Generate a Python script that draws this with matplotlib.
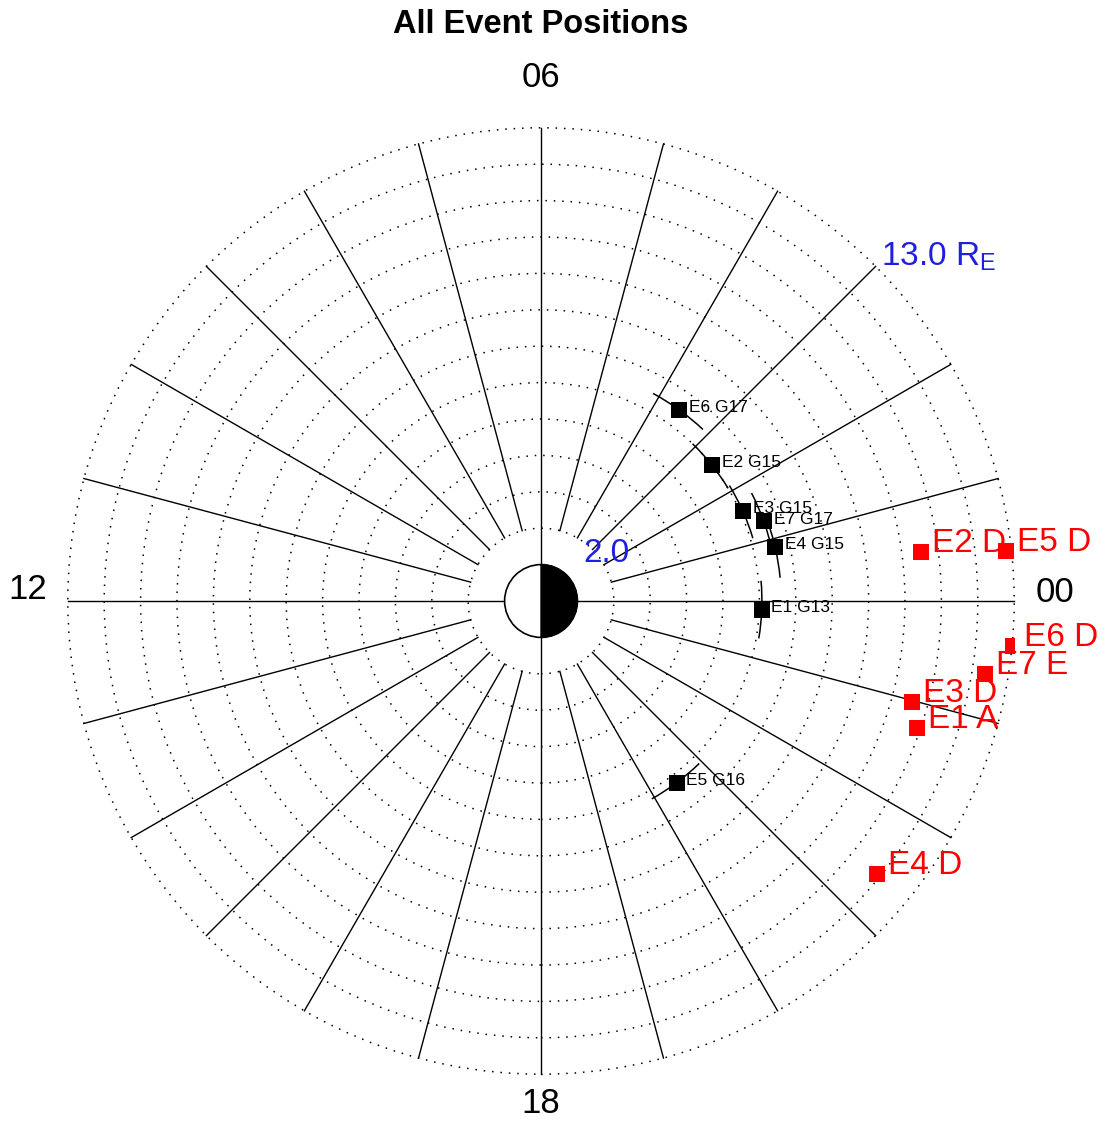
import numpy as np
import matplotlib
matplotlib.use('Agg')
import matplotlib.pyplot as plt
from matplotlib.patches import Circle, Wedge, Arc, Rectangle

plt.rcParams['font.family'] = ['Liberation Sans', 'DejaVu Sans']
plt.rcParams['mathtext.fontset'] = 'custom'
plt.rcParams['mathtext.rm'] = 'Liberation Sans'

# GOES positions for each event (radial distance in RE, magnetic local time in h)
goes_labels = ['E1 G13', 'E2 G15', 'E3 G15', 'E4 G15', 'E5 G16', 'E6 G17', 'E7 G17']
goes_r = [6.07, 6.00, 6.07, 6.60, 6.23, 6.48, 6.50]
goes_mlt = [23.85, 2.57, 1.60, 0.87, 20.45, 3.61, 1.31]

# THEMIS probe positions for each event
probe_labels = ['E1 A', 'E2 D', 'E3 D', 'E4 D', 'E5 D', 'E6 D', 'E7 E']
probe_r = [10.91, 10.53, 10.56, 11.90, 12.84, 13.03, 12.36]
probe_mlt = [22.76, 0.49, 22.98, 21.39, 0.41, 23.64, 23.38]

track_half = 0.5      # half width of the orbit track drawn around GOES, hours
r_inner, r_outer = 2, 13

def to_xy(r, mlt):
    ang = np.radians(np.asarray(mlt) * 15.0)
    return np.asarray(r) * np.cos(ang), np.asarray(r) * np.sin(ang)

scale = 36.4  # pixels per RE
fig = plt.figure(figsize=(11.07, 11.22), dpi=100)
ax = fig.add_axes([0, 0, 1, 1])
ax.set_xlim(-541 / scale, (1107 - 541) / scale)
ax.set_ylim(-(1122 - 601) / scale, 601 / scale)
ax.axis('off')

# dotted range rings every 1 RE
for r in range(r_inner, r_outer + 1):
    ax.add_patch(Circle((0, 0), r, fill=False, ec='k', lw=1.1,
                        ls=(0, (1, 4.5))))

# hour spokes
for h in range(24):
    if h % 6 == 0:
        continue
    x, y = to_xy([r_inner, r_outer], [h, h])
    ax.plot(x, y, color='k', lw=1.0)
ax.plot([-r_outer, r_outer], [0, 0], color='k', lw=1.0)
ax.plot([0, 0], [-r_outer, r_outer], color='k', lw=1.0)

# Earth, night side dark
ax.add_patch(Circle((0, 0), 1, fc='white', ec='k', lw=1.2, zorder=3))
ax.add_patch(Wedge((0, 0), 1, -90, 90, fc='k', ec='k', lw=1.0, zorder=4))

# GOES orbit tracks and positions
for r, m in zip(goes_r, goes_mlt):
    ax.add_patch(Arc((0, 0), 2 * r, 2 * r, theta1=(m - track_half) * 15,
                     theta2=(m + track_half) * 15, color='k', lw=1.1, zorder=4))
gx, gy = to_xy(goes_r, goes_mlt)
ax.plot(gx, gy, 's', color='k', ms=11.5, mew=0, zorder=5)
for x, y, lab in zip(gx, gy, goes_labels):
    ax.annotate(lab, (x, y), xytext=(7, -1.5), textcoords='offset points',
                ha='left', va='baseline', fontsize=12.5, color='k', zorder=6)

# probe positions, clipped to the plot window
px, py = to_xy(probe_r, probe_mlt)
clip = Rectangle((-r_outer, -r_outer), 2 * r_outer, 2 * r_outer,
                 transform=ax.transData)
pts, = ax.plot(px, py, 's', color='red', ms=11.5, mew=0, zorder=5)
pts.set_clip_path(clip)
for x, y, lab in zip(px, py, probe_labels):
    ax.annotate(lab, (x, y), xytext=(8, 0), textcoords='offset points',
                ha='left', va='baseline', fontsize=24, color='red', zorder=6)

# ring labels
blue = '#1f1fe0'
ax.text(1.16, 1.08, '2.0', color=blue, fontsize=24, ha='left', va='baseline')
ax.text(9.35, 9.23, r'13.0 R$_{\rm E}$', color=blue, fontsize=24,
        ha='left', va='baseline')

# MLT labels
ax.text(0, 14.13, '06', fontsize=25, ha='center', va='baseline')
ax.text(0, -14.07, '18', fontsize=25, ha='center', va='baseline')
ax.text(-14.11, 0.05, '12', fontsize=25, ha='center', va='baseline')
ax.text(14.13, -0.02, '00', fontsize=25, ha='center', va='baseline')

ax.text(0, 15.61, 'All Event Positions', fontsize=23.5, fontweight='bold',
        ha='center', va='baseline')

fig.savefig('out.png', dpi=100)
